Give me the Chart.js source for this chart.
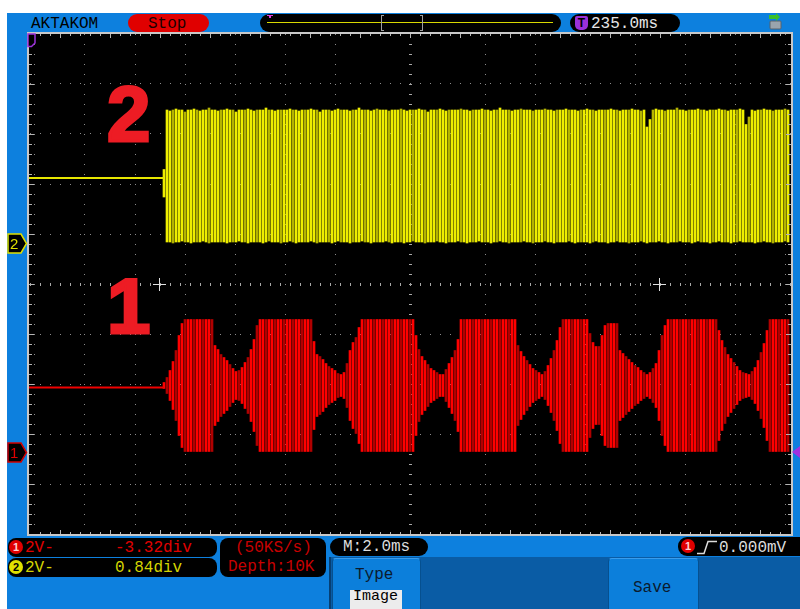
<!DOCTYPE html>
<html>
<head>
<meta charset="utf-8">
<script src="https://cdn.jsdelivr.net/npm/chart.js@4.4.1/dist/chart.umd.min.js"></script>
<style>
  html, body { margin: 0; padding: 0; background: #ffffff; }
  #scope { position: relative; width: 800px; height: 609px; overflow: hidden;
           font-family: "Liberation Mono", "DejaVu Sans Mono", monospace; }
  .abs { position: absolute; }
  .t16 { font-size: 16px; line-height: 19px; white-space: pre; }
  .t15 { font-size: 15px; line-height: 18px; white-space: pre; }
  .pill { background: #000; border-radius: 9px; }
  .chip { border-radius: 50%; width: 14px; height: 14px; font: bold 11px/14px "Liberation Sans", Arial, sans-serif;
          text-align: center; }
  .big { font: bold 78px/80px "Liberation Sans", Arial, sans-serif; color: #ed1c24;
         -webkit-text-stroke: 3px #ed1c24; }
  .btn { background: #0c7fdb; border: 1px solid #06508f; border-top-color: #3a9cec; border-radius: 4px 4px 0 0; }
  canvas { position: absolute; left: 0; top: 0; }
</style>
</head>
<body>
<div id="scope">
  <!-- instrument frame -->
  <div class="abs" style="left:7px;top:13px;width:793px;height:596px;background:#0d80de;"></div>
  <div class="abs" style="left:329px;top:557px;width:471px;height:52px;background:#0a5ca5;border-left:2px solid #063f73;"></div>

  <!-- header -->
  <div class="abs t16" style="left:31px;top:15px;color:#000;">AKTAKOM</div>
  <div class="abs pill" style="left:128px;top:14px;width:81px;height:18px;background:#e00000;"></div>
  <div class="abs t16" style="left:148px;top:15px;color:#1a0000;">Stop</div>

  <div class="abs pill" style="left:260px;top:14px;width:301px;height:18px;"></div>
  <div class="abs" style="left:267px;top:22px;width:286px;height:1px;background:#d8d800;"></div>
  <div class="abs" style="left:267px;top:15px;width:6px;height:1px;background:#e040e0;"></div>
  <div class="abs" style="left:269px;top:15px;width:2px;height:3px;background:#e040e0;"></div>
  <div class="abs" style="left:381px;top:15px;width:3px;height:16px;border:1px solid #a0a0a0;border-right:none;box-sizing:border-box;"></div>
  <div class="abs" style="left:420px;top:15px;width:3px;height:16px;border:1px solid #a0a0a0;border-left:none;box-sizing:border-box;"></div>

  <div class="abs pill" style="left:570px;top:14px;width:110px;height:18px;"></div>
  <div class="abs" style="left:575px;top:16px;width:13px;height:14px;background:#9b30d9;border-radius:2px 2px 5px 5px;
       font:bold 12px/14px 'Liberation Sans',Arial,sans-serif;color:#000;text-align:center;">T</div>
  <div class="abs t16" style="left:591px;top:15px;color:#e6e6e6;">235.0ms</div>

  <svg class="abs" style="left:765px;top:13px;" width="20" height="18" viewBox="0 0 20 18">
    <rect x="5" y="8" width="11" height="8" rx="1" fill="#9aa4ad" stroke="#59636c" stroke-width="1"/>
    <path d="M4 2 L11 2 L11 0 L15 4 L11 8 L11 6 L4 6 Z" fill="#3bbf2a"/>
  </svg>

  <!-- status panels -->
  <div class="abs pill" style="left:8px;top:538px;width:209px;height:19px;border-radius:8px;"></div>
  <div class="abs pill" style="left:8px;top:558px;width:209px;height:19px;border-radius:8px;"></div>
  <div class="abs pill" style="left:220px;top:538px;width:106px;height:39px;border-radius:8px;"></div>
  <div class="abs pill" style="left:330px;top:538px;width:98px;height:18px;"></div>
  <div class="abs pill" style="left:678px;top:537px;width:130px;height:19px;"></div>

  <div class="abs chip" style="left:9px;top:540px;background:#e00000;color:#ffd0d0;">1</div>
  <div class="abs t16" style="left:25px;top:539px;color:#e00000;">2V-</div>
  <div class="abs t16" style="left:115px;top:539px;color:#e00000;">-3.32div</div>
  <div class="abs chip" style="left:9px;top:560px;background:#e0e000;color:#000;">2</div>
  <div class="abs t16" style="left:25px;top:559px;color:#d4d400;">2V-</div>
  <div class="abs t16" style="left:115px;top:559px;color:#d4d400;">0.84div</div>

  <div class="abs t16" style="left:235px;top:539px;color:#c80000;">(50KS/s)</div>
  <div class="abs t16" style="left:228px;top:558px;color:#c80000;">Depth:10K</div>
  <div class="abs t16" style="left:343px;top:538px;color:#dcdcdc;">M:2.0ms</div>

  <div class="abs chip" style="left:681px;top:539px;background:#e00000;color:#ffd0d0;">1</div>
  <svg class="abs" style="left:696px;top:538px;" width="22" height="18" viewBox="0 0 22 18">
    <polyline points="1,15.5 8,15.5 12,3.5 21,3.5" fill="none" stroke="#dcdcdc" stroke-width="1.5"/>
  </svg>
  <div class="abs t16" style="left:719px;top:539px;color:#dcdcdc;">0.000mV</div>

  <!-- soft keys -->
  <div class="abs btn" style="left:332px;top:558px;width:87px;height:52px;"></div>
  <div class="abs t16" style="left:355px;top:566px;color:#0b1a2e;">Type</div>
  <div class="abs" style="left:350px;top:590px;width:52px;height:19px;background:#ececec;"></div>
  <div class="abs t15" style="left:353px;top:588px;color:#000;">Image</div>
  <div class="abs btn" style="left:608px;top:558px;width:89px;height:52px;"></div>
  <div class="abs t16" style="left:633px;top:579px;color:#0b1a2e;">Save</div>

  <canvas id="trace" width="800" height="609"></canvas>

  <!-- channel markers -->
  <svg class="abs" style="left:7px;top:233px;" width="21" height="21" viewBox="0 0 21 21">
    <polygon points="1,1 14,1 19.5,10.5 14,20 1,20" fill="#000" stroke="#e0e000" stroke-width="1.5"/>
    <text x="3" y="16" font-family="Liberation Sans, Arial, sans-serif" font-size="15" fill="#e0e000">2</text>
  </svg>
  <svg class="abs" style="left:7px;top:442px;" width="21" height="21" viewBox="0 0 21 21">
    <polygon points="1,1 14,1 19.5,10.5 14,20 1,20" fill="#000" stroke="#d00000" stroke-width="1.5"/>
    <text x="3" y="16" font-family="Liberation Sans, Arial, sans-serif" font-size="15" fill="#e00000">1</text>
  </svg>
  <svg class="abs" style="left:27px;top:33px;" width="10" height="15" viewBox="0 0 10 15">
    <polygon points="1,1 8,1 8,10 4.5,13.5 1,13.5" fill="#000" stroke="#9b30d9" stroke-width="1.5"/>
  </svg>
  <svg class="abs" style="left:792px;top:446px;" width="8" height="12" viewBox="0 0 8 12">
    <polygon points="0,6 8,0 8,12" fill="#a030e0"/>
  </svg>

  <!-- channel callouts -->
  <div class="abs big" style="left:107px;top:74px;">2</div>
  <div class="abs big" style="left:107px;top:266px;">1</div>
</div>

<script>
// Vertical / horizontal settings from the status panels
const voltsPerDiv = 2;
const ch1OffsetDiv = -3.32;
const ch2OffsetDiv = 0.84;
const msPerDiv = 2;
const screenDivsX = 15.28;
const screenDivsY = 10;

// Flat level before the burst starts
const idleTimes = [0, 5.44];
const ch1Idle = [2.5, 2.5];
const ch2Idle = [2.56, 2.56];

// Burst: one vertical stroke per display column
const burstStartMs = 5.44;
const strokeStepMs = 0.12;

// CH1: mid level and peak swing (V) of each stroke
const ch1Mid = 2.58;
const ch1Swing = [
  0.12,0.32,0.60,0.96,1.40,2.00,2.48,2.64,2.64,2.64,
  2.64,2.64,2.64,2.64,2.64,2.64,2.64,1.60,1.44,1.24,
  1.12,1.00,0.84,0.68,0.56,0.60,0.72,0.92,1.12,1.44,
  1.84,2.40,2.64,2.64,2.64,2.64,2.64,2.64,2.64,2.64,
  2.64,2.64,2.64,2.64,2.64,2.64,2.64,2.64,2.64,2.64,
  1.76,1.24,1.16,1.04,0.88,0.76,0.68,0.60,0.48,0.44,
  0.52,0.88,1.40,1.72,1.92,2.32,2.64,2.64,2.64,2.64,
  2.64,2.64,2.64,2.64,2.64,2.64,2.64,2.64,2.64,2.64,
  2.64,2.64,2.64,2.64,2.00,1.44,1.16,1.00,0.84,0.68,
  0.60,0.52,0.44,0.44,0.64,0.88,1.12,1.40,1.84,2.64,
  2.64,2.64,2.64,2.64,2.64,2.64,2.64,2.64,2.64,2.64,
  2.64,2.64,2.64,2.64,2.64,2.64,2.64,2.64,1.60,1.36,
  1.16,1.00,0.84,0.68,0.60,0.52,0.44,0.56,0.80,1.08,
  1.40,1.80,2.32,2.64,2.64,2.64,2.64,2.64,2.64,2.64,
  2.64,2.64,2.08,1.72,1.56,1.56,2.00,2.40,2.48,2.48,
  2.48,2.48,1.40,1.28,1.16,1.04,0.92,0.80,0.72,0.60,
  0.52,0.44,0.52,0.68,0.88,1.40,2.00,2.40,2.64,2.64,
  2.64,2.64,2.64,2.64,2.64,2.64,2.64,2.64,2.64,2.64,
  2.64,2.64,2.64,2.64,2.64,2.20,1.80,1.52,1.24,1.08,
  0.92,0.76,0.60,0.52,0.48,0.44,0.56,0.72,1.00,1.32,
  1.68,2.20,2.64,2.64,2.64,2.64,2.64,2.64,2.64
];

// CH2: high and low end (V) of each stroke
const ch2High = [
  2.90,5.28,5.24,5.28,5.32,5.28,5.28,5.20,5.28,5.28,5.32,5.28,5.24,5.28,5.28,5.36,5.28,5.28,5.24,5.28,
  5.28,5.32,5.28,5.28,5.20,5.28,5.28,5.28,5.32,5.28,5.24,5.28,5.28,5.28,5.36,5.28,5.28,5.24,5.28,5.28,
  5.28,5.28,5.32,5.28,5.28,5.24,5.28,5.28,5.28,5.32,5.28,5.28,5.20,5.28,5.28,5.28,5.24,5.28,5.32,5.28,
  5.28,5.28,5.24,5.28,5.28,5.36,5.28,5.28,5.28,5.24,5.28,5.32,5.28,5.28,5.28,5.24,5.28,5.28,5.28,5.32,
  5.28,5.24,5.28,5.28,5.28,5.32,5.28,5.28,5.20,5.28,5.28,5.28,5.32,5.28,5.24,5.28,5.28,5.28,5.28,5.32,
  5.28,5.28,5.24,5.28,5.28,5.28,5.32,5.28,5.28,5.24,5.28,5.28,5.36,5.28,5.28,5.28,5.24,5.28,5.28,5.32,
  5.28,5.28,5.28,5.24,5.28,5.28,5.28,5.32,5.28,5.28,5.24,5.28,5.28,5.28,5.32,5.28,5.28,5.28,5.24,5.28,
  5.28,5.32,5.28,5.28,5.24,5.28,5.28,5.28,5.28,5.32,5.28,5.28,5.24,5.28,5.28,5.28,5.32,5.28,5.28,5.24,
  5.28,4.60,4.90,5.28,5.32,5.28,5.28,5.24,5.28,5.28,5.28,5.36,5.28,5.28,5.24,5.28,5.28,5.28,5.32,5.28,
  5.28,5.24,5.28,5.28,5.28,5.32,5.28,5.28,5.24,5.28,5.28,5.28,5.32,5.28,4.70,5.00,5.28,5.24,5.28,5.28,
  5.32,5.28,5.28,5.24,5.28,5.28,5.28,5.32,5.28
];
const ch2Low = [
  1.80,0,0,-0.04,0,0,0.04,0,0,-0.04,0,0,0,0.04,0,-0.04,0,0,0,0,
  0,-0.04,0,0,0,0.04,0,0,-0.04,0,0,0,0,-0.04,0,0.04,0,0,0,-0.04,
  0,0,0.04,0,-0.04,0,0,0,0,0.04,0,-0.04,0,0,0,0,-0.04,0,0.04,0,
  0,0,-0.04,0,0,0,0.04,0,0,-0.04,0,0,0,0,0.04,0,-0.04,0,0,0,
  -0.04,0,0,0.04,0,0,0,-0.04,0,0,0,0.04,0,0,-0.04,0,0,0,0.04,0,
  0,-0.04,0,0,0,0.04,0,0,0,-0.04,0,0,0.04,0,0,-0.04,0,0,0,0,
  0.04,0,0,-0.04,0,0,0,0.04,0,0,-0.04,0,0,0,0,0.04,0,-0.04,0,0,
  0,0,-0.04,0,0.04,0,0,0,-0.04,0,0,0.04,0,0,0,-0.04,0,0,0,0.04,
  0,-0.04,0,0,0,0.04,0,0,-0.04,0,0,0,0.04,0,0,0,-0.04,0,0.04,0,
  0,0,-0.04,0,0,0.04,0,0,0,-0.04,0,0,0.04,0,0,0,0,-0.04,0,0,
  0.04,0,0,-0.04,0,0,0,0.04,0
];

// ---- derived chart data ----
const screenMs = screenDivsX * msPerDiv;
const centreMs = screenMs / 2;
const strokeTimes = ch1Swing.map((_, i) => burstStartMs + i * strokeStepMs);

const xGridValues = [];
for (let k = -7; k <= 7; k++) if (k !== 0) xGridValues.push(centreMs + k * msPerDiv);
const yGridValues = [-4, -3, -2, -1, 1, 2, 3, 4];

const axisRange = (offsetDiv) => ({
  min: (-screenDivsY / 2 - offsetDiv) * voltsPerDiv,
  max: (screenDivsY / 2 - offsetDiv) * voltsPerDiv
});

const ch1Points = strokeTimes.map((t, i) => ({ x: t, y: [ch1Mid - ch1Swing[i], ch1Mid + ch1Swing[i]] }));
const ch2Points = strokeTimes.map((t, i) => ({ x: t, y: [ch2Low[i], ch2High[i]] }));

// Screen furniture: black field, centre axes with fine ticks, frame and cursors
const graticule = {
  id: 'graticule',
  beforeDraw(chart) {
    const { ctx, chartArea: a } = chart;
    ctx.save();
    ctx.fillStyle = '#000';
    ctx.fillRect(a.left, a.top, a.right - a.left, a.bottom - a.top);
    ctx.restore();
  },
  beforeDatasetsDraw(chart) {
    const { ctx, scales } = chart;
    const sx = scales.x, sg = scales.grid;
    const cx = Math.round(sx.getPixelForValue(centreMs));
    const cy = Math.round(sg.getPixelForValue(0));
    ctx.save();
    ctx.fillStyle = '#a8a8a8';
    const minorMs = msPerDiv / 5;
    for (let k = -40; k <= 40; k++) {
      const t = centreMs + k * minorMs;
      if (t <= 0 || t >= screenMs) continue;
      const px = Math.round(sx.getPixelForValue(t));
      ctx.fillRect(px, cy - 1, 1, 3);
    }
    for (let k = -24; k <= 24; k++) {
      const py = Math.round(sg.getPixelForValue(k / 5));
      ctx.fillRect(cx - 1, py, 3, 1);
    }
    ctx.restore();
  },
  afterDatasetsDraw(chart) {
    const { ctx, chartArea: a, scales } = chart;
    const sx = scales.x, sg = scales.grid;
    ctx.save();
    // frame
    ctx.fillStyle = '#c8c8c8';
    ctx.fillRect(a.left - 1, a.top - 2, a.right - a.left + 2, 2);
    ctx.fillRect(a.left - 1, a.bottom, a.right - a.left + 2, 2);
    ctx.fillRect(a.left - 1, a.top - 2, 2, a.bottom - a.top + 4);
    ctx.fillRect(a.right - 1, a.top - 2, 2, a.bottom - a.top + 4);
    // frame ticks
    ctx.fillStyle = '#b4b4b4';
    const minorMs = msPerDiv / 5;
    for (let k = -40; k <= 40; k++) {
      const t = centreMs + k * minorMs;
      if (t <= 0.1 || t >= screenMs - 0.1) continue;
      const px = Math.round(sx.getPixelForValue(t));
      const len = (k % 5 === 0) ? 4 : 2;
      ctx.fillRect(px, a.top, 1, len);
      ctx.fillRect(px, a.bottom - len, 1, len);
    }
    for (let k = -24; k <= 24; k++) {
      const py = Math.round(sg.getPixelForValue(k / 5));
      const len = (k % 5 === 0) ? 5 : 3;
      ctx.fillRect(a.left + 1, py, len, 1);
      ctx.fillRect(a.right - 1 - len, py, len, 1);
    }
    // cursor crosses on the centre line
    ctx.fillStyle = '#e0e0e0';
    const cy = Math.round(sg.getPixelForValue(0));
    [centreMs - 5 * msPerDiv, centreMs + 5 * msPerDiv].forEach(t => {
      const px = Math.round(sx.getPixelForValue(t)) - 1;
      ctx.fillRect(px - 6, cy, 13, 1);
      ctx.fillRect(px, cy - 6, 1, 13);
    });
    ctx.restore();
  }
};

const hiddenAxis = (range) => ({ type: 'linear', display: false, min: range.min, max: range.max });

new Chart(document.getElementById('trace'), {
  type: 'bar',
  data: {
    datasets: [
      {
        type: 'line', label: 'CH2 idle', xAxisID: 'x', yAxisID: 'ch2',
        data: idleTimes.map((t, i) => ({ x: t, y: ch2Idle[i] })),
        borderColor: '#e6e600', borderWidth: 2, pointRadius: 0
      },
      {
        type: 'line', label: 'CH1 idle', xAxisID: 'x', yAxisID: 'ch1',
        data: idleTimes.map((t, i) => ({ x: t, y: ch1Idle[i] })),
        borderColor: '#f00000', borderWidth: 2, pointRadius: 0
      },
      {
        type: 'bar', label: 'CH2', xAxisID: 'x', yAxisID: 'ch2',
        data: ch2Points, grouped: false, barThickness: 2, borderWidth: 0,
        backgroundColor: c => (c.dataIndex % 4 === 3 ? '#b4b400' : '#eeee00')
      },
      {
        type: 'bar', label: 'CH1', xAxisID: 'x', yAxisID: 'ch1',
        data: ch1Points, grouped: false, barThickness: 2, borderWidth: 0,
        backgroundColor: c => (c.dataIndex % 3 === 1 ? '#b00000' : '#ff0000')
      }
    ]
  },
  options: {
    responsive: false,
    maintainAspectRatio: false,
    animation: false,
    devicePixelRatio: 1,
    layout: { padding: { left: 28, right: 8, top: 34, bottom: 75 } },
    plugins: { legend: { display: false }, tooltip: { enabled: false } },
    scales: {
      x: {
        type: 'linear', position: 'bottom', min: 0, max: screenMs, offset: false,
        afterBuildTicks: s => { s.ticks = xGridValues.map(v => ({ value: v })); },
        afterFit: s => { s.height = 0; },
        ticks: { display: false },
        grid: { color: '#8c8c8c', lineWidth: 1, drawTicks: false },
        border: { display: false, dash: [1, 9], dashOffset: 0 }
      },
      grid: {
        type: 'linear', position: 'left', min: -screenDivsY / 2, max: screenDivsY / 2,
        afterBuildTicks: s => { s.ticks = yGridValues.map(v => ({ value: v })); },
        afterFit: s => { s.width = 0; },
        ticks: { display: false },
        grid: { color: '#8c8c8c', lineWidth: 1, drawTicks: false },
        border: { display: false, dash: [1, 9], dashOffset: 8 }
      },
      ch1: hiddenAxis(axisRange(ch1OffsetDiv)),
      ch2: hiddenAxis(axisRange(ch2OffsetDiv))
    }
  },
  plugins: [graticule]
});
</script>
</body>
</html>
